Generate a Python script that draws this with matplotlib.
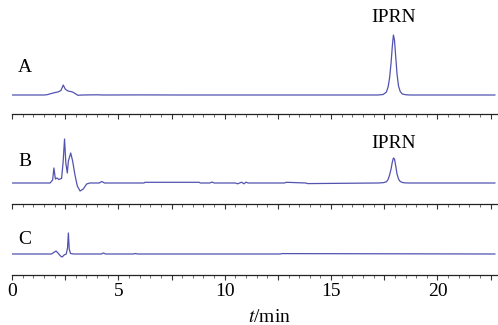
import matplotlib
matplotlib.use("Agg")
import matplotlib.pyplot as plt
from matplotlib.ticker import MultipleLocator

# ---- data (time in min, signal in arbitrary units relative to baseline) ----
t_a = [0.0, 1.5, 1.65, 1.85, 2.05, 2.16, 2.30, 2.41, 2.50, 2.63, 2.75, 2.85, 3.00, 3.10, 3.3,
       4.0, 4.3, 6.0, 8.0, 12.0, 17.20, 17.45, 17.60, 17.68, 17.75, 17.82, 17.88, 17.93, 17.98,
       18.04, 18.10, 18.17, 18.25, 18.35, 18.50, 18.70, 22.7]
y_a = [0.0, 0.0, 0.3, 1.5, 2.6, 3.0, 4.5, 10.0, 6.0, 4.0, 3.5, 3.0, 1.0, -0.3, 0.0,
       0.2, 0.0, 0.1, 0.0, 0.0, 0.0, 0.5, 3.0, 8.0, 17.0, 32.0, 49.0, 60.0, 55.0,
       38.0, 21.0, 9.0, 3.5, 1.0, 0.3, 0.0, 0.0]

t_b = [0.0, 1.79, 1.91, 1.97, 2.04, 2.12, 2.20, 2.26, 2.33, 2.40, 2.47, 2.53, 2.60, 2.65,
       2.76, 2.85, 2.96, 3.07, 3.20, 3.35, 3.51, 3.66, 4.10, 4.22, 4.35, 6.2, 6.25, 8.8, 8.85,
       9.3, 9.4, 9.5, 10.5, 10.6, 10.8, 10.9, 11.0, 11.1, 12.8, 12.9, 13.8, 13.9,
       17.20, 17.45, 17.60, 17.68, 17.75, 17.82, 17.88, 17.93, 17.98, 18.04, 18.10, 18.17,
       18.25, 18.35, 18.50, 18.70, 22.7]
y_b = [0.0, 0.0, 3.0, 15.0, 4.0, 5.0, 3.5, 4.0, 4.5, 20.0, 44.0, 20.0, 10.0, 22.0,
       30.0, 22.0, 8.0, -3.0, -8.0, -6.0, -1.0, 0.0, 0.0, 1.5, 0.0, 0.0, 0.7, 0.7, 0.0,
       0.0, 1.0, 0.0, 0.0, -0.8, 0.8, -0.8, 0.8, 0.0, 0.0, 0.7, 0.0, -0.6,
       0.0, 0.3, 1.2, 3.5, 8.0, 14.0, 21.0, 25.0, 24.0, 17.0, 9.0, 4.0,
       1.5, 0.5, 0.1, 0.0, 0.0]

t_c = [0.0, 1.85, 2.00, 2.07, 2.16, 2.28, 2.36, 2.45, 2.55, 2.61, 2.65, 2.69, 2.75, 2.90,
       4.2, 4.3, 4.4, 5.7, 5.8, 5.9, 12.6, 12.7, 22.7]
y_c = [0.0, 0.0, 2.0, 3.0, 1.0, -2.0, -3.0, -1.0, 0.0, 6.0, 21.0, 5.0, 0.5, 0.0,
       0.0, 1.0, 0.0, 0.0, 0.5, 0.0, 0.0, 0.4, 0.0]

traces = [(t_a, y_a), (t_b, y_b), (t_c, y_c)]
labels = ["A", "B", "C"]
xtick_values = [0, 5, 10, 15, 20]
xtick_labels = ["0", "5", "10", "15", "20"]

plt.rcParams['font.family'] = ['Liberation Serif', 'DejaVu Serif']
plt.rcParams['mathtext.fontset'] = 'stix'

fig = plt.figure(figsize=(4.98, 3.25), dpi=100)
H = 325.0
left, right = 12 / 498, 497 / 498
panels = [(0, 114, -19, 95, 27), (114, 204, -21, 69, 21), (204, 275, -21, 50, 14)]
line_color = '#5252b0'

axes = []
for i, ((top, bot, y0, y1, lab_y), (tx, ty)) in enumerate(zip(panels, traces)):
    ax = fig.add_axes([left, 1 - bot / H, right - left, (bot - top) / H])
    ax.plot(tx, ty, color=line_color, lw=0.9)
    ax.set_xlim(0, 22.8)
    ax.set_ylim(y0, y1)
    for s in ['top', 'left', 'right']:
        ax.spines[s].set_visible(False)
    ax.spines['bottom'].set_linewidth(0.9)
    ax.spines['bottom'].set_color('#222222')
    ax.set_yticks([])
    ax.xaxis.set_major_locator(MultipleLocator(2.5))
    ax.xaxis.set_minor_locator(MultipleLocator(0.5))
    ax.tick_params(axis='x', which='major', direction='out', length=3.5, width=0.8,
                   color='#333333', labelbottom=False)
    ax.tick_params(axis='x', which='minor', direction='out', length=1.8, width=0.6, color='#555555')
    ax.text(0.6, lab_y, labels[i], fontsize=14, ha='center', va='center')
    ax.set_facecolor('none')
    axes.append(ax)

axc = axes[2]
for v, s in zip(xtick_values, xtick_labels):
    axc.text(v, -37.5, s, fontsize=14, ha='center', va='center')

axes[0].text(17.93, 78, "IPRN", fontsize=14, ha='center', va='center')
axes[1].text(17.93, 39, "IPRN", fontsize=14, ha='center', va='center')

axc.text(12.1, -63, r"$t$/min", fontsize=14, ha='center', va='center')

fig.savefig("out.png", dpi=100)
